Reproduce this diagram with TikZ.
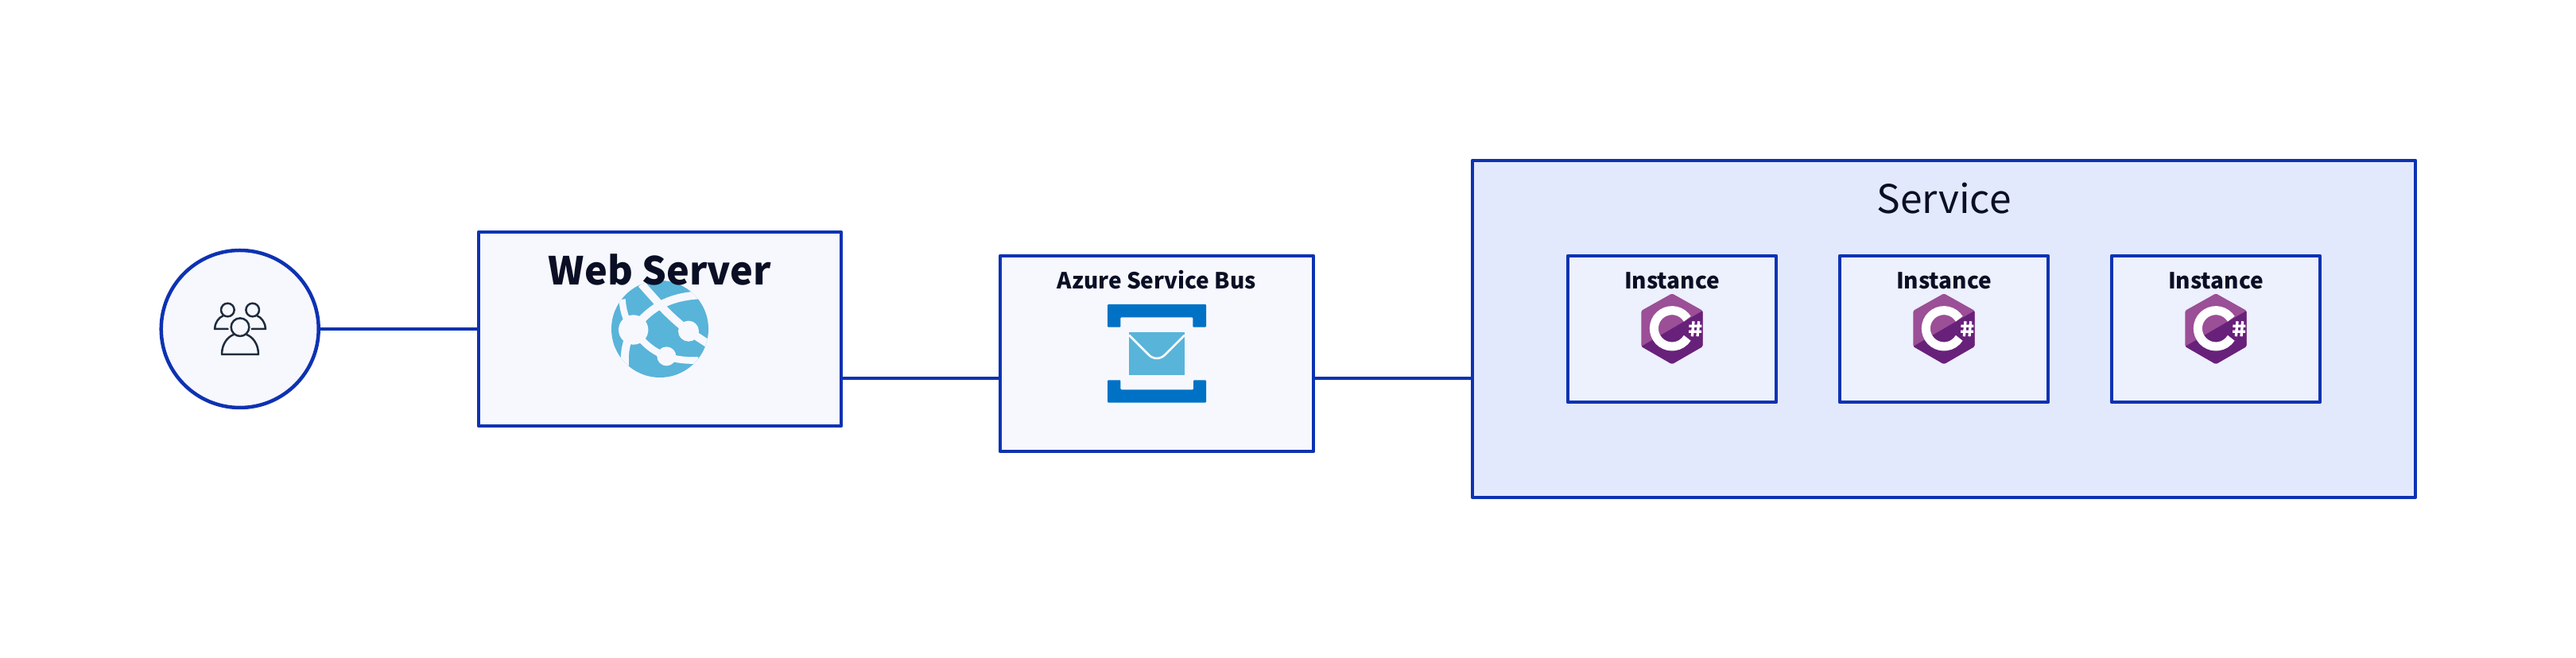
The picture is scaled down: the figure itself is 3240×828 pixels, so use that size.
\documentclass[tikz,border=0pt]{standalone}
\usepackage{fontspec}
\setmainfont{Noto Sans CJK SC}
\definecolor{edgeblue}{HTML}{0D32B2}
\definecolor{boxfill}{HTML}{F7F8FE}
\definecolor{svcfill}{HTML}{E3E9FD}
\definecolor{instfill}{HTML}{EDF0FD}
\definecolor{inkdark}{HTML}{0A0F25}
\definecolor{userink}{HTML}{1F2D3D}
\definecolor{azlight}{HTML}{59B4D9}
\definecolor{azblue}{HTML}{0072C6}
\definecolor{cslight}{HTML}{9B4F96}
\definecolor{csdark}{HTML}{68217A}
\tikzset{
  x=0.3pt,y=-0.3pt,
  boxnode/.style={draw=edgeblue,fill=boxfill,line width=1.35pt,line join=round,rectangle,inner sep=0pt,outer sep=0pt},
  svcnode/.style={boxnode,fill=svcfill},
  instnode/.style={boxnode,fill=instfill},
  usernode/.style={boxnode,circle},
  conn/.style={edgeblue,line width=1.35pt},
  lab/.style={text=inkdark,inner sep=0pt,anchor=base},
  csicon/.pic={
    \begin{scope}[x=0.1pt,y=-0.1pt]
      \fill[cslight,rounded corners=0.5pt] (0,-132)--(116,-67)--(116,68)--(0,135)--(-116,68)--(-116,-67)--cycle;
      \begin{scope}
        \clip[rounded corners=0.5pt] (0,-132)--(116,-67)--(116,68)--(0,135)--(-116,68)--(-116,-67)--cycle;
        \fill[csdark] (-116,68)--(116,-67)--(116,140)--(-116,140)--cycle;
      \end{scope}
      \draw[white,line width=3.3pt] (57.7,-36) arc[start angle=-32,end angle=-328,radius=68];
      \draw[white,line width=1pt] (81,-27)--(76,30) (101,-27)--(96,30) (64,-9)--(112,-9) (63,12)--(111,12);
    \end{scope}
  }
}
\begin{document}
\begin{tikzpicture}
\useasboundingbox (0,0) rectangle (3240,828);
\fill[white] (0,0) rectangle (3240,828);
% nodes
\node[usernode,minimum size=59.4pt] (users) at (301.7,414) {};
\node[boxnode,minimum width=136.8pt,minimum height=73.2pt] (web) at (830,414) {};
\node[boxnode,minimum width=118.2pt,minimum height=73.8pt] (bus) at (1455,445) {};
\node[svcnode,minimum width=355.8pt,minimum height=127.2pt] (svc) at (2445,413.8) {};
\node[instnode,minimum width=78.6pt,minimum height=55.2pt] (i1) at (2103,414) {};
\node[instnode,minimum width=78.6pt,minimum height=55.2pt] (i2) at (2445,414) {};
\node[instnode,minimum width=78.6pt,minimum height=55.2pt] (i3) at (2787,414) {};
% attachment points of the connectors
\coordinate (busin) at (bus.west |- 0,476);
\coordinate (busout) at (bus.east |- 0,476);
\coordinate (svcin) at (svc.west |- 0,476);
\draw[conn] (users.east) -- (web.west);
\draw[conn] (web.east |- busin) -- (busin);
\draw[conn] (busout) -- (svcin);
% users icon
\begin{scope}[shift={(160,260)},x=0.1pt,y=-0.1pt,userink,line width=0.75pt,line cap=round,line join=round]
  \draw (379,390) circle[radius=25];
  \draw (473,390) circle[radius=25];
  \draw (426,455) circle[radius=34];
  \draw (357,558)--(495,558) .. controls (495,515) and (470,490) .. (450,483);
  \draw (357,558) .. controls (357,515) and (382,490) .. (402,483);
  \draw (380,462)--(330,462) .. controls (330,440) and (345,418) .. (362,412);
  \draw (470,462)--(522,462) .. controls (522,440) and (507,418) .. (490,412);
\end{scope}
% globe icon
\begin{scope}[shift={(580,270)},x=0.1pt,y=-0.1pt]
  \fill[azlight] (750,432) circle[radius=183];
  \begin{scope}
    \clip (750,432) circle[radius=183];
    \fill[boxfill] (650,435) circle[radius=56];
    \fill[boxfill] (858,440) circle[radius=39];
    \fill[boxfill] (775,535) circle[radius=36];
    \draw[boxfill,line width=3pt] (650,435) .. controls (700,365) and (770,310) .. (900,304);
    \draw[boxfill,line width=3pt] (680,262) -- (745,335) .. controls (780,375) and (820,410) .. (858,440) -- (935,490);
    \draw[boxfill,line width=2.6pt] (650,435) .. controls (690,490) and (730,520) .. (775,535) .. controls (810,548) and (850,552) .. (895,550);
    \draw[boxfill,line width=2.5pt] (608,320) .. controls (610,360) and (620,390) .. (640,430);
    \draw[boxfill,line width=3pt] (630,470) .. controls (620,500) and (615,530) .. (618,575);
  \end{scope}
\end{scope}
% bus icon
\begin{scope}[shift={(1240,310)},x=0.1pt,y=-0.1pt]
  \fill[azblue,rounded corners=0.3pt] (459,219)--(831,219)--(831,305)--(781,305)--(781,268)--(508,268)--(508,305)--(459,305)--cycle;
  \fill[azblue,rounded corners=0.3pt] (459,590)--(831,590)--(831,505)--(783,505)--(783,541)--(508,541)--(508,505)--(459,505)--cycle;
  \fill[azlight] (540,325) rectangle (750,485);
  \draw[boxfill,line width=0.8pt] (540,335)--(615,410) .. controls (632,427) and (658,427) .. (675,410) -- (750,335);
\end{scope}
% c# icons
\pic at (2103,413.3) {csicon};
\pic at (2445,413.3) {csicon};
\pic at (2787,413.3) {csicon};
% labels
\node[lab,font=\bfseries\fontsize{14.55pt}{14.55pt}\selectfont] (tweb) at (830,358.5) {Web Server};
\node[lab,font=\bfseries\fontsize{8.4pt}{8.4pt}\selectfont] (tbus) at (1455,363.5) {Azure Service Bus};
\node[lab,font=\fontsize{14.9pt}{14.9pt}\selectfont] (tsvc) at (2445,268.3) {Service};
\node[lab,font=\bfseries\fontsize{8.4pt}{8.4pt}\selectfont] (t1) at (2103,363.5) {Instance};
\node[lab,font=\bfseries\fontsize{8.4pt}{8.4pt}\selectfont] (t2) at (2445,363.5) {Instance};
\node[lab,font=\bfseries\fontsize{8.4pt}{8.4pt}\selectfont] (t3) at (2787,363.5) {Instance};
\end{tikzpicture}
\end{document}
